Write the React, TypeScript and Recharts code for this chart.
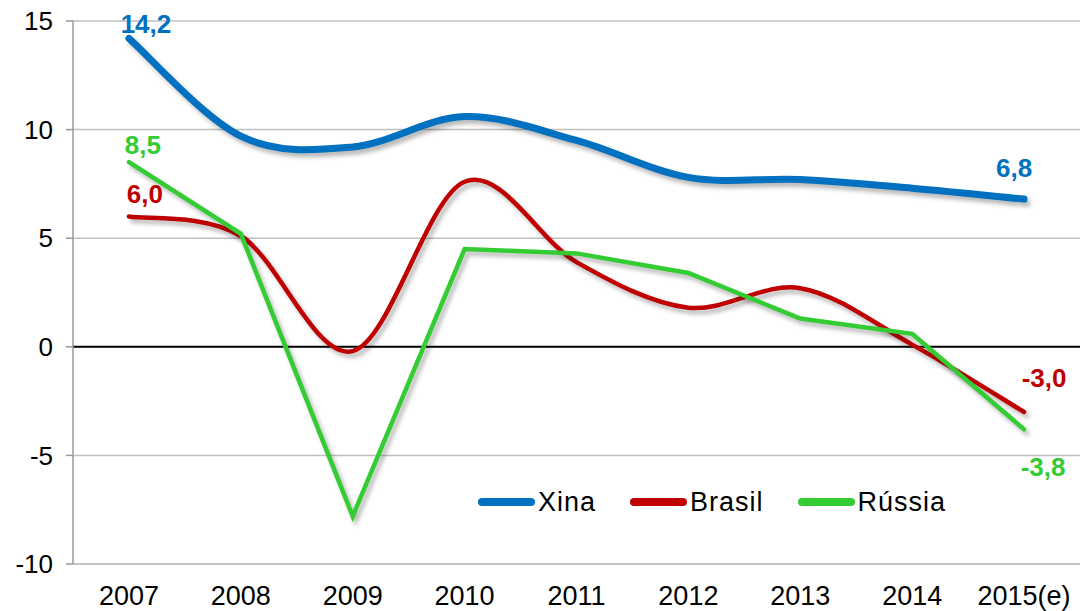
import { CartesianGrid, Line, LineChart, ReferenceLine, XAxis, YAxis } from "recharts";

const years = ["2007", "2008", "2009", "2010", "2011", "2012", "2013", "2014", "2015(e)"];
const xina = [14.2, 9.7, 9.2, 10.6, 9.5, 7.8, 7.7, 7.3, 6.8];
const brasil = [6.0, 5.1, -0.2, 7.6, 3.9, 1.8, 2.7, 0.1, -3.0];
const russia = [8.5, 5.2, -7.8, 4.5, 4.3, 3.4, 1.3, 0.6, -3.8];
const yTicks = [-10, -5, 0, 5, 10, 15];

const data = years.map((year, i) => ({
  year,
  Xina: xina[i],
  Brasil: brasil[i],
  Rússia: russia[i],
}));

const FONT = "'Liberation Sans', Arial, sans-serif";

// Excel-like smoothing: bezier through every point, control points at 1/6
function excelCurve(context: any) {
  let pts: number[][] = [];
  return {
    areaStart() {},
    areaEnd() {},
    lineStart() {
      pts = [];
    },
    point(x: number, y: number) {
      pts.push([+x, +y]);
    },
    lineEnd() {
      if (!pts.length) return;
      context.moveTo(pts[0][0], pts[0][1]);
      for (let i = 0; i < pts.length - 1; i++) {
        const p0 = pts[i - 1] || pts[i];
        const p1 = pts[i];
        const p2 = pts[i + 1];
        const p3 = pts[i + 2] || pts[i + 1];
        context.bezierCurveTo(
          p1[0] + (p2[0] - p0[0]) / 6,
          p1[1] + (p2[1] - p0[1]) / 6,
          p2[0] - (p3[0] - p1[0]) / 6,
          p2[1] - (p3[1] - p1[1]) / 6,
          p2[0],
          p2[1]
        );
      }
    },
  };
}

const fmt = (v: number) => v.toFixed(1).replace(".", ",");

function endLabels(color: string, first: [number, number], last: [number, number]) {
  return (props: any) => {
    const { x, y, value, index } = props;
    let off: [number, number] | null = null;
    if (index === 0) off = first;
    if (index === years.length - 1) off = last;
    if (!off) return null;
    return (
      <text
        key={index}
        x={x + off[0]}
        y={y + off[1]}
        textAnchor="middle"
        dominantBaseline="central"
        fill={color}
        fontFamily={FONT}
        fontSize={26}
        fontWeight="bold"
      >
        {fmt(value)}
      </text>
    );
  };
}

const series = [
  { key: "Xina", color: "#0070C0" },
  { key: "Brasil", color: "#C00000" },
  { key: "Rússia", color: "#33CC33" },
];

function LegendBox() {
  return (
    <div
      style={{
        position: "absolute",
        left: 478,
        top: 486,
        display: "flex",
        alignItems: "center",
        fontFamily: FONT,
        fontSize: 27,
        lineHeight: "32px",
        letterSpacing: 1,
      }}
    >
      {series.map((s, i) => (
        <div key={s.key} style={{ display: "flex", alignItems: "center", marginRight: i < 2 ? 34 : 0 }}>
          <div style={{ width: 57, height: 8, borderRadius: 4, background: s.color, marginRight: 3 }} />
          <span style={{ color: "#000" }}>{s.key}</span>
        </div>
      ))}
    </div>
  );
}

export default function App() {
  return (
    <div style={{ position: "absolute", left: 0, top: 0, width: 1080, height: 611, background: "#fff" }}>
      <style>{`.recharts-line-curve { filter: drop-shadow(3px 4px 2px rgba(0,0,0,0.28)); }`}</style>
      <LineChart width={1080} height={611} data={data} margin={{ top: 21, right: 0, left: 13, bottom: 7 }}>
        <CartesianGrid vertical={false} stroke="#BFBFBF" strokeWidth={1.5} />
        <XAxis
          dataKey="year"
          scale="band"
          height={40}
          tickLine={false}
          axisLine={{ stroke: "#BFBFBF", strokeWidth: 1.5 }}
          tickSize={0}
          tickMargin={22}
          tick={{ fill: "#000", fontSize: 27, fontFamily: FONT }}
          interval={0}
        />
        <YAxis
          width={60}
          domain={[-10, 15]}
          ticks={yTicks}
          tickSize={7}
          tickMargin={13}
          axisLine={{ stroke: "#999", strokeWidth: 1.5 }}
          tickLine={{ stroke: "#999", strokeWidth: 1.5 }}
          tick={{ fill: "#000", fontSize: 26, fontFamily: FONT }}
        />
        <ReferenceLine y={0} stroke="#000" strokeWidth={2} />
        <Line
          type={excelCurve as any}
          dataKey="Xina"
          stroke="#0070C0"
          strokeWidth={7}
          strokeLinecap="round"
          dot={false}
          isAnimationActive={false}
          label={endLabels("#0070C0", [17, -14], [-10, -31])}
        />
        <Line
          type={excelCurve as any}
          dataKey="Brasil"
          stroke="#C00000"
          strokeWidth={4.5}
          strokeLinecap="round"
          dot={false}
          isAnimationActive={false}
          label={endLabels("#C00000", [16, -22], [20, -34])}
        />
        <Line
          type="linear"
          dataKey="Rússia"
          stroke="#33CC33"
          strokeWidth={4.5}
          strokeLinecap="round"
          dot={false}
          isAnimationActive={false}
          label={endLabels("#33CC33", [14, -17], [19, 38])}
        />
      </LineChart>
      <LegendBox />
    </div>
  );
}
